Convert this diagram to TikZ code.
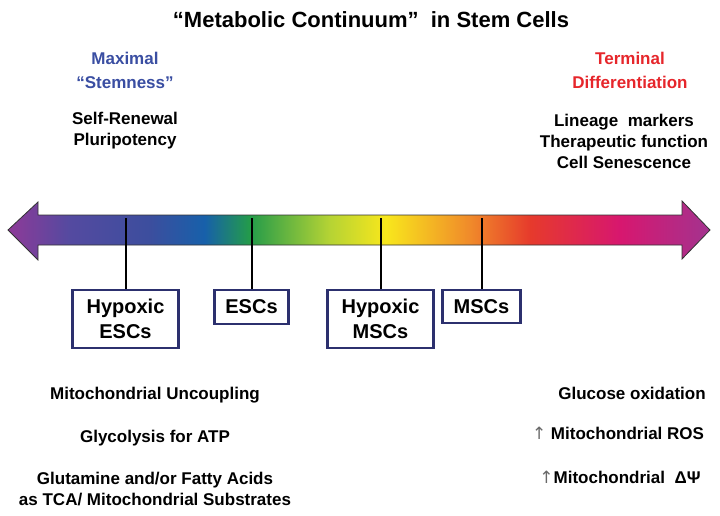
\documentclass[tikz,border=0pt]{standalone}
\usepackage{fontspec}
\setmainfont{Liberation Sans}
\newfontfamily\arrowfont{DejaVu Sans}
\usepackage{tikz}
\usetikzlibrary{positioning}
\definecolor{stemblue}{RGB}{58, 78, 162}
\definecolor{termred}{RGB}{230, 38, 43}
\definecolor{boxnavy}{RGB}{44, 48, 110}
\definecolor{uparrowgray}{RGB}{105, 105, 105}
% colours along the continuum
\definecolor{specA}{RGB}{142, 58, 152}
\definecolor{specB}{RGB}{84, 74, 160}
\definecolor{specC}{RGB}{60, 78, 158}
\definecolor{specD}{RGB}{23, 96, 170}
\definecolor{specE}{RGB}{35, 155, 74}
\definecolor{specF}{RGB}{181, 211, 52}
\definecolor{specG}{RGB}{248, 231, 28}
\definecolor{specH}{RGB}{240, 138, 42}
\definecolor{specI}{RGB}{230, 58, 44}
\definecolor{specJ}{RGB}{215, 23, 111}
\definecolor{specK}{RGB}{163, 51, 143}
\pgfdeclarehorizontalshading{spectrum}{100bp}{color(0bp)=(specA); color(25bp)=(specA);
  color(29.4bp)=(specB); color(35.1bp)=(specC); color(39bp)=(specD); color(42.2bp)=(specE);
  color(47.9bp)=(specF); color(51.9bp)=(specG); color(57.9bp)=(specH); color(62.2bp)=(specI);
  color(68.6bp)=(specJ); color(75bp)=(specK); color(100bp)=(specK)}
\tikzset{
  celltype/.style={draw=boxnavy, line width=2.8pt, fill=white, align=center, anchor=north,
    font=\fontsize{20}{25}\selectfont\bfseries, inner sep=0pt},
  bodytext/.style={align=center, font=\fontsize{17}{21}\selectfont\bfseries},
  headtext/.style={align=center, font=\fontsize{17}{24}\selectfont\bfseries},
  marker/.style={line width=2pt, black}
}
\newcommand{\up}{{\arrowfont\mdseries\color{uparrowgray}↑}}

\begin{document}
\begin{tikzpicture}[x=1pt, y=-1pt]
        \useasboundingbox (0,0) rectangle (720,515);
        \node[font=\fontsize{22}{26}\selectfont\bfseries] (title) at (371,20) {“Metabolic Continuum”\ \ in Stem Cells};
        % two ends of the continuum
        \node[headtext, text=stemblue] (stem) at (125,70) {Maximal\\“Stemness”};
        \node[headtext, text=termred] (term) at (630,70) {Terminal\\Differentiation};
        \node[bodytext] (selfrenew) at (125,131) {Self-Renewal\\Pluripotency};
        \node[bodytext] (lineage) at (624,141) {Lineage\ \ markers\\Therapeutic function\\Cell Senescence};
        % spectrum arrow
        \draw[shading=spectrum, draw=black!80, line width=0.8pt]
            (8,230) -- (38,202) -- (38,215) -- (682,215) -- (682,201) -- (710,230)
            -- (682,259) -- (682,245) -- (38,245) -- (38,260) -- cycle;
        \coordinate (shaft) at (0,218);
        % cell types
        \node[celltype, minimum width=106pt, minimum height=58pt] (hesc) at (125.5,288.5) {Hypoxic\\ESCs};
        \node[celltype, minimum width=74pt, minimum height=34pt] (esc) at (251.5,288.5) {ESCs};
        \node[celltype, minimum width=106pt, minimum height=58pt] (hmsc) at (380.5,288.5) {Hypoxic\\MSCs};
        \node[celltype, minimum width=78pt, minimum height=33pt] (msc) at (481.5,288.5) {MSCs};
        \foreach \c in {hesc, esc, hmsc, msc}
            \draw[marker] (\c.north) -- (\c.north |- shaft);
        % metabolic features
        \node[bodytext] (uncoupling) at (155,395) {Mitochondrial Uncoupling};
        \node[bodytext] (glycolysis) at (155,438) {Glycolysis for ATP};
        \node[bodytext] (substrates) at (155,489) {Glutamine and/or Fatty Acids\\as TCA/ Mitochondrial Substrates};
        \node[bodytext] (glucose) at (632,393) {Glucose oxidation};
        \node[bodytext] (ros) at (618,433) {\up\ Mitochondrial ROS};
        \node[bodytext] (potential) at (620,477) {\up Mitochondrial\ \ ΔΨ};
    \end{tikzpicture}
\end{document}
